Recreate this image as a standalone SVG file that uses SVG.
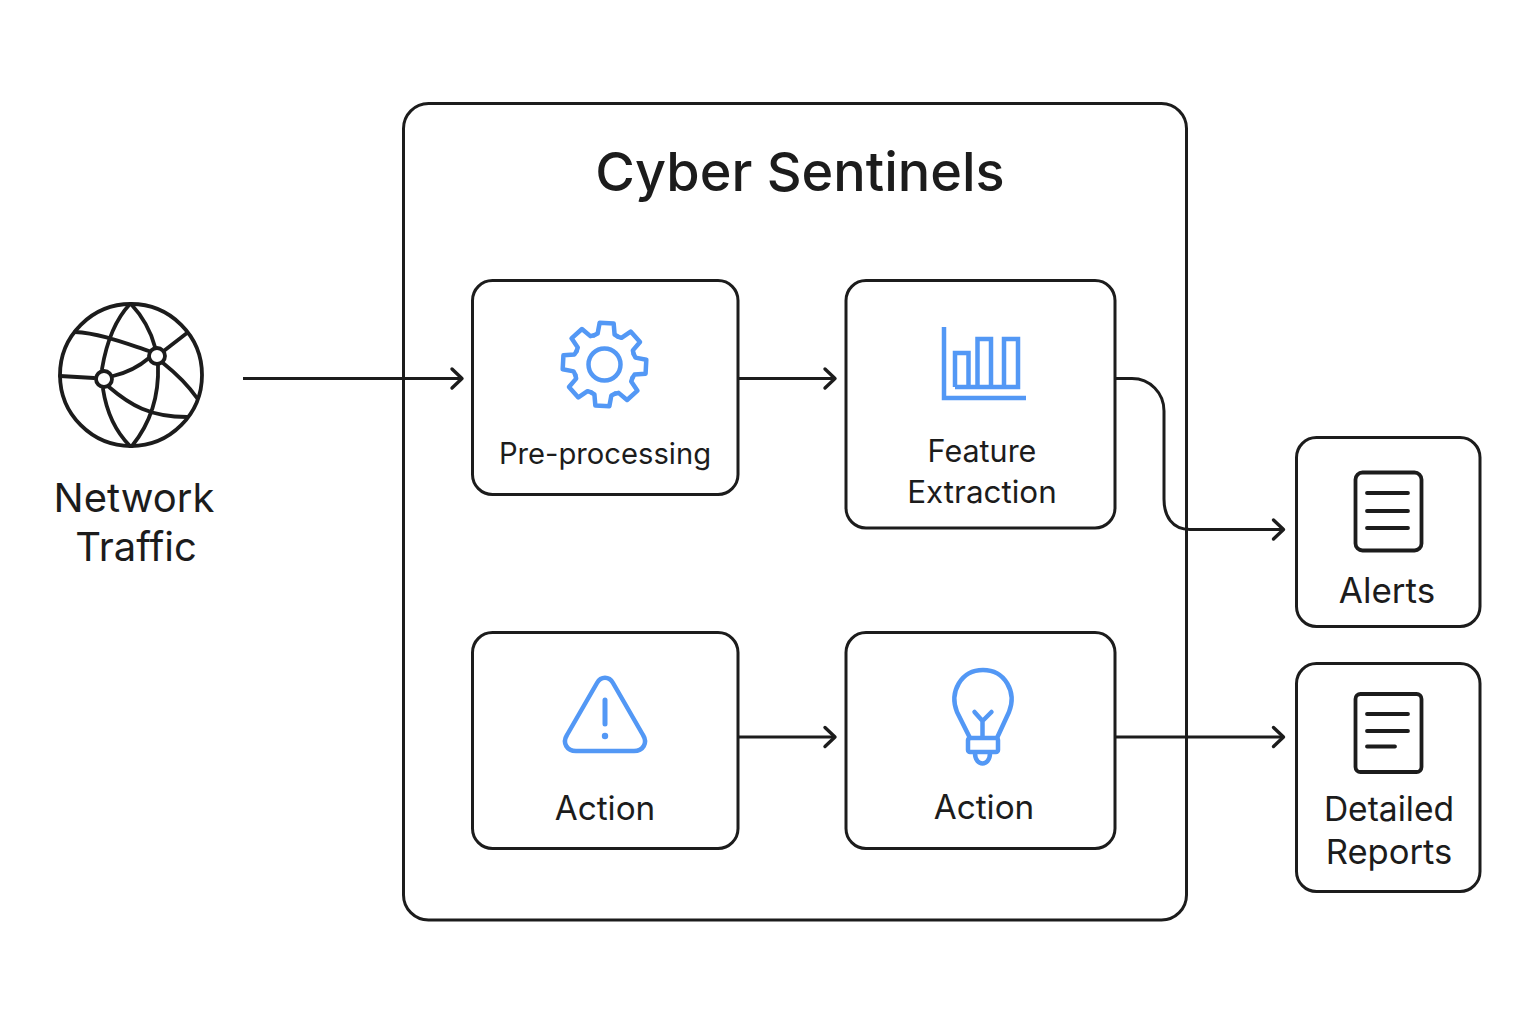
<svg xmlns="http://www.w3.org/2000/svg" width="1536" height="1024" viewBox="0 0 1536 1024">
<style>
.box{fill:#fff;stroke:#1c1c1c;stroke-width:3}
.t{font-family:Inter,"Liberation Sans",sans-serif;fill:#1c1c1c;text-anchor:middle;font-size:30px}
.blue{fill:none;stroke:#5398f5;stroke-width:4.500;stroke-linejoin:round;stroke-linecap:round}
.ink{fill:none;stroke:#1c1c1c;stroke-width:3.800;stroke-linecap:round;stroke-linejoin:round}
.c{fill:none;stroke:#1c1c1c;stroke-width:3;marker-end:url(#a)}
</style>
<defs>
<marker id="a" markerUnits="userSpaceOnUse" markerWidth="24" markerHeight="28" refX="20" refY="14" orient="auto" overflow="visible"><path d="M10 4.500L20 14L10 23.500" fill="none" stroke="#1c1c1c" stroke-width="3.400" stroke-linecap="round" stroke-linejoin="round"/></marker>
<path id="tooth" d="M-11.900-28.600L-8.500-30.500L-7-41.500H7L8.500-30.500L11.900-28.600"/>
</defs>
<rect width="1536" height="1024" fill="#fff"/>
<g id="cyber-sentinels">
<rect class="box" x="403.500" y="103.500" width="783" height="816.500" rx="25"/>
<text class="t" x="800" y="191" style="font-size:54px;font-weight:500">Cyber Sentinels</text>
</g>
<g id="connectors">
<path class="c" d="M243 378.500H462"/>
<path class="c" d="M739 378.500H835"/>
<path class="c" d="M1116 378.500H1132C1150 378.500 1164 393 1164 411V499C1164 516 1172 529.500 1190 529.500H1283.500"/>
<path class="c" d="M739 737H835"/>
<path class="c" d="M1116 737H1283.500"/>
</g>
<g id="network-traffic">
<circle class="ink" cx="131" cy="375" r="71"/>
<path class="ink" d="M130 304C113 322 106 345 102 369M103 389C107 415 118 434 130 446M131 304C144 318 151 332 155 347M158 365C159 392 153 420 132 446M75 332C100 333 130 345 149 351M165 350L187 333M60 376L94 378M113 376C130 372 142 364 149 358M109 387C130 405 150 417 187 417M163 363C178 375 190 388 197 398"/>
<circle class="ink" cx="104" cy="379" r="8"/>
<circle class="ink" cx="157" cy="356" r="8"/>
<text class="t" style="font-size:40px"><tspan x="134" y="512">Network</tspan><tspan x="136" y="561">Traffic</tspan></text>
</g>
<g id="pre-processing">
<rect class="box" x="472.500" y="280.500" width="265.500" height="214" rx="20"/>
<g class="blue" transform="translate(604.500 364.500)">
<use href="#tooth" transform="rotate(3)"/><use href="#tooth" transform="rotate(48)"/><use href="#tooth" transform="rotate(93)"/><use href="#tooth" transform="rotate(138)"/><use href="#tooth" transform="rotate(183)"/><use href="#tooth" transform="rotate(228)"/><use href="#tooth" transform="rotate(273)"/><use href="#tooth" transform="rotate(318)"/>
<circle r="16"/>
</g>
<text class="t" x="605" y="463.500" style="font-size:29.200px">Pre-processing</text>
</g>
<g id="feature-extraction">
<rect class="box" x="846" y="280.500" width="269" height="247.500" rx="20"/>
<path class="blue" style="stroke-linecap:butt;stroke-linejoin:miter" d="M944 327V398H1026M955 387V353H968.500V387M977.500 387V339H991V387M1004 387V339H1018V387H955"/>
<text class="t"><tspan x="982" y="462" style="font-size:30.500px">Feature</tspan><tspan x="982" y="503" style="font-size:31.400px">Extraction</tspan></text>
</g>
<g id="action-1">
<rect class="box" x="472.500" y="632.500" width="265.500" height="216" rx="20"/>
<path class="blue" d="M597 683C601 676 609 676 613 683L643 735C648 743 643 751 634 751H576C567 751 562 743 567 735Z"/>
<path class="blue" style="stroke-width:5" d="M605 700V724"/>
<circle cx="605" cy="736" r="3.200" fill="#5398f5"/>
<text class="t" x="605" y="820" style="font-size:33.300px">Action</text>
</g>
<g id="action-2">
<rect class="box" x="846" y="632.500" width="269" height="216" rx="20"/>
<path class="blue" d="M970 738L957 712C949 692 961 670 983 670C1005 670 1017 692 1009 712L997 738M982.500 737V721L974.500 712M982.500 721L991.500 712"/>
<rect class="blue" x="968" y="738" width="30" height="14" rx="2"/>
<path class="blue" d="M975 753C975 767 990 767 990 753"/>
<text class="t" x="984" y="819" style="font-size:33.300px">Action</text>
</g>
<g id="alerts">
<rect class="box" x="1296.500" y="437.500" width="183.500" height="189" rx="20"/>
<rect class="ink" x="1355.500" y="472.500" width="66" height="78" rx="7"/>
<path class="ink" d="M1367 493H1408M1367 511H1408M1367 528H1408"/>
<text class="t" x="1387" y="603" style="font-size:35px">Alerts</text>
</g>
<g id="detailed-reports">
<rect class="box" x="1296.500" y="663.500" width="183.500" height="228" rx="20"/>
<rect class="ink" x="1355.500" y="694" width="66" height="78" rx="5"/>
<path class="ink" d="M1367 714H1408M1367 731H1408M1367 746.500H1395"/>
<text class="t"><tspan x="1389" y="821" style="font-size:33.600px">Detailed</tspan><tspan x="1389" y="864" style="font-size:34.600px">Reports</tspan></text>
</g>
</svg>
